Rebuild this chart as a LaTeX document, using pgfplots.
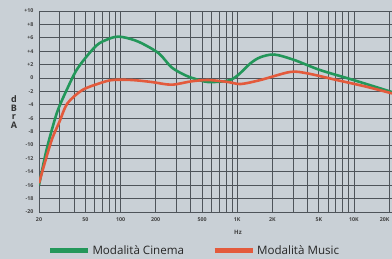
\documentclass[border=0pt]{standalone}
\usepackage{pgfplots}
\pgfplotsset{compat=1.18}
\usepackage{fontspec}
\setmainfont{Open Sans}
\definecolor{bg}{HTML}{C9D0D6}
\definecolor{gridc}{HTML}{4E545A}
\definecolor{cin}{HTML}{23975A}
\definecolor{mus}{HTML}{E35A3C}
\begin{document}
\begin{tikzpicture}[x=1pt,y=1pt]
\fill[bg] (0,0) rectangle (392,259);
\useasboundingbox (0,0) rectangle (392,259);
\begin{axis}[
 at={(39pt,47pt)}, anchor=south west,
 scale only axis, width=353pt, height=201pt,
 xmode=log, xmin=20, xmax=21200, ymin=-20, ymax=10,
 axis line style={gridc, line width=0.9pt},
 xtick={20,50,100,200,500,1000,2000,5000,10000,20000},
 xticklabels={20,50,100,200,500,1K,2K,5K,10K,\kern-9pt 20K},
 minor xtick={30,40,60,70,80,90,300,400,600,700,800,900,3000,4000,6000,7000,8000,9000},
 ytick={-20,-18,...,10},
 yticklabels={-20,-18,-16,-14,-12,-10,-8,-6,-4,-2,0,+2,+4,+6,+8,+10},
 grid=both,
 major grid style={gridc, line width=0.8pt},
 minor grid style={gridc, line width=0.8pt},
 major tick length=0pt, minor tick length=0pt,
 tick label style={font=\fontsize{5.3}{6}\selectfont\bfseries, text=black!75},
 xticklabel style={yshift=-2pt},
 yticklabel style={xshift=-2pt},
 legend columns=2,
 legend style={at={(0.44,-0.194)}, anchor=center, draw=none, fill=none,
   font=\fontsize{11.6}{14}\selectfont, text=black!85,
   /tikz/every even column/.append style={column sep=26pt}},
 legend image code/.code={\draw[#1, line width=5pt] (0pt,0pt)--(38pt,0pt);},
]
\addplot[cin, line width=2.6pt, smooth] coordinates {
(20,-16) (23,-11) (26,-7.5) (29,-4.8) (34.5,-1.8) (42,1.2) (54,3.7) (66,5.2) (88,6.1) (105,6.1) (143,5.4) (212,3.7) (273,1.6) (359,0.4) (430,-0.1) (562,-0.6) (832,-0.4) (1010,0.4) (1300,2.2) (1580,3.1) (2080,3.5) (3070,2.7) (5100,1.2) (9900,-0.3) (21200,-2.1)
};
\addlegendentry{Modalità Cinema}
\addplot[mus, line width=2.6pt, smooth] coordinates {
(20,-15.7) (23,-12) (26,-9) (30,-6.5) (35,-3.8) (47,-1.8) (66,-0.8) (85,-0.3) (125,-0.3) (185,-0.6) (273,-1.0) (404,-0.5) (562,-0.3) (832,-0.6) (1071,-0.9) (1582,-0.3) (2840,0.9) (3960,0.7) (7110,-0.3) (12770,-1.3) (21200,-2.3)
};
\addlegendentry{Modalità Music}
\end{axis}
\node[font=\fontsize{6}{7}\selectfont\bfseries, text=black!75] at (238,27) {Hz};
\node[font=\fontsize{9}{10}\selectfont\bfseries, text=black!80, align=center, inner sep=0pt] at (14,147) {d\\[-1.5pt]B\\[-1.5pt]r\\[-1.5pt]A};
\end{tikzpicture}
\end{document}
